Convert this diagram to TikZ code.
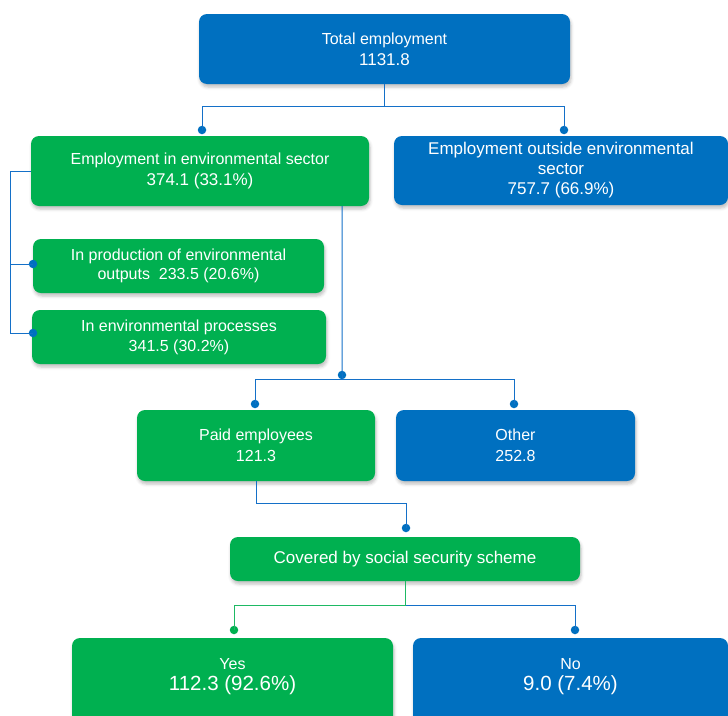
\documentclass[tikz,border=0pt]{standalone}
\usepackage{fontspec}
\setmainfont{Liberation Sans}
\usetikzlibrary{shadows.blur}
\definecolor{bblue}{RGB}{0,112,192}
\definecolor{bgreen}{RGB}{0,176,80}
\definecolor{lblue}{RGB}{20,112,200}
\definecolor{lgreen}{RGB}{30,185,100}
\newcommand{\numf}{\fontsize{17}{21}\selectfont}
\newcommand{\bignumf}{\fontsize{20.5}{22}\selectfont}
\begin{document}
\begin{tikzpicture}[x=1pt,y=-1pt,
  box/.style={rounded corners=8pt, inner sep=0pt, text=white, align=center,
    font=\fontsize{16}{21}\selectfont,
    blur shadow={shadow xshift=1pt, shadow yshift=-3pt, shadow opacity=25, shadow blur radius=3pt}},
  bluebox/.style={box, fill=bblue},
  greenbox/.style={box, fill=bgreen},
  conn/.style={draw=lblue, line width=1pt},
  gconn/.style={draw=lgreen, line width=1pt},
  dotb/.style={circle, fill=bblue, inner sep=0pt, minimum size=8.5pt},
  dotg/.style={circle, fill=bgreen, inner sep=0pt, minimum size=8.5pt}]
\useasboundingbox (0,0) rectangle (728,715);
\clip (0,0) rectangle (728,715);
% boxes
\node[bluebox, minimum width=371pt, minimum height=70pt] (total) at (384.5,49)
  {Total employment\\{\numf 1131.8}};
\node[greenbox, minimum width=338pt, minimum height=70pt] (env) at (200,171)
  {Employment in environmental sector\\{\numf 374.1 (33.1\%)}};
\node[bluebox, minimum width=334pt, minimum height=69pt, font=\fontsize{17}{20}\selectfont] (out) at (561,170.5)
  {Employment outside environmental\\sector\\757.7 (66.9\%)};
\node[greenbox, minimum width=291pt, minimum height=54pt, font=\fontsize{16}{19.5}\selectfont] (sub1) at (178.5,266)
  {In production of environmental\\outputs\ \ 233.5 (20.6\%)};
\node[greenbox, minimum width=294pt, minimum height=54pt, font=\fontsize{16}{20}\selectfont] (sub2) at (179,337)
  {In environmental processes\\341.5 (30.2\%)};
\node[greenbox, minimum width=238pt, minimum height=71pt] (paid) at (256,445.5)
  {Paid employees\\121.3};
\node[bluebox, minimum width=239pt, minimum height=71pt] (other) at (515.5,445.5)
  {Other\\252.8};
\node[greenbox, minimum width=350pt, minimum height=44pt, font=\fontsize{17}{21}\selectfont] (cov) at (405,559)
  {Covered by social security scheme};
\node[greenbox, minimum width=321pt, minimum height=90pt, text depth=17pt] (yes) at (232.5,683)
  {Yes\\{\bignumf 112.3 (92.6\%)}};
\node[bluebox, minimum width=315pt, minimum height=90pt, text depth=17pt] (no) at (570.5,683)
  {No\\{\bignumf 9.0 (7.4\%)}};
% dots
\node[dotb] (d1) at (202,130) {};
\node[dotb] (d2) at (564,130) {};
\node[dotb] (d3) at (33,264) {};
\node[dotb] (d4) at (33,333) {};
\node[dotb] (d5) at (342,375) {};
\node[dotb] (d6) at (255,404) {};
\node[dotb] (d7) at (514,404) {};
\node[dotb] (d8) at (406,528) {};
\node[dotg] (d9) at (234,630) {};
\node[dotb] (d10) at (575,630) {};
\coordinate (e1) at ([xshift=-27pt]env.south east);
% connectors
\draw[conn] (total.south) -- ++(0,22) -| (d1.center);
\draw[conn] (total.south) -- ++(0,22) -| (d2.center);
\draw[conn] (env.west) -- ++(-20,0) |- (d3.center);
\draw[conn] (env.west) -- ++(-20,0) |- (d4.center);
\draw[conn] (e1) -- (d5.center);
\draw[conn] (d5.center) -- ++(0,4) -| (d6.center);
\draw[conn] (d5.center) -- ++(0,4) -| (d7.center);
\draw[conn] (paid.south) -- ++(0,22) -| (d8.center);
\draw[conn] (cov.south) ++(0,24) coordinate (j9) -| (d10.center);
\draw[gconn] (cov.south) -- (j9) -| (d9.center);
\end{tikzpicture}
\end{document}
